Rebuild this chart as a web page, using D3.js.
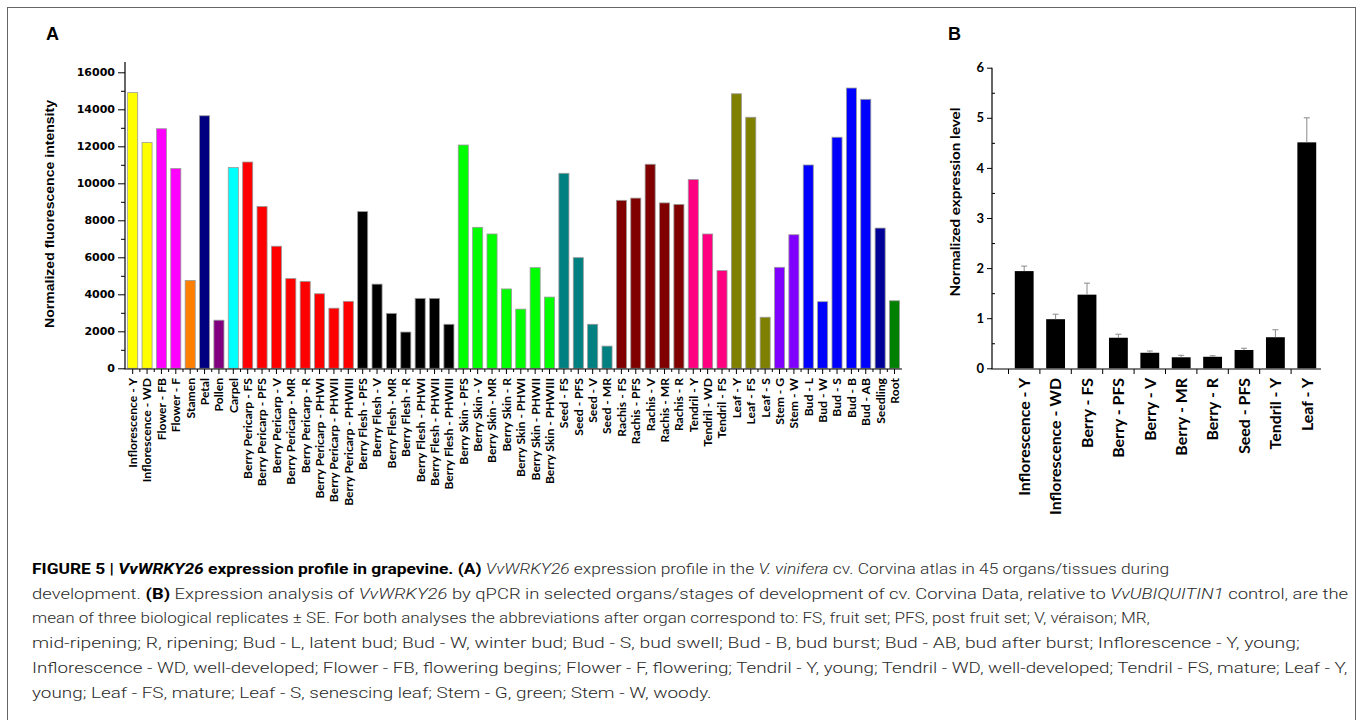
<!DOCTYPE html>
<html>
<head>
<meta charset="utf-8">
<script src="https://cdn.jsdelivr.net/npm/d3@7/dist/d3.min.js"></script>
<style>
  body { margin: 0; background: #fff; }
  svg { display: block; }
</style>
</head>
<body>
<svg id="fig" width="1360" height="720"></svg>
<script>
// ---- panel A: microarray atlas ----
var atlasLabels = ["Inflorescence - Y","Inflorescence - WD","Flower - FB","Flower - F","Stamen","Petal","Pollen","Carpel",
  "Berry Pericarp - FS","Berry Pericarp - PFS","Berry Pericarp - V","Berry Pericarp - MR","Berry Pericarp - R",
  "Berry Pericarp - PHWI","Berry Pericarp - PHWII","Berry Pericarp - PHWIII",
  "Berry Flesh - PFS","Berry Flesh - V","Berry Flesh - MR","Berry Flesh - R","Berry Flesh - PHWI","Berry Flesh - PHWII","Berry Flesh - PHWIII",
  "Berry Skin - PFS","Berry Skin - V","Berry Skin - MR","Berry Skin - R","Berry Skin - PHWI","Berry Skin - PHWII","Berry Skin - PHWIII",
  "Seed - FS","Seed - PFS","Seed - V","Seed - MR",
  "Rachis - FS","Rachis - PFS","Rachis - V","Rachis - MR","Rachis - R",
  "Tendril - Y","Tendril - WD","Tendril - FS","Leaf - Y","Leaf - FS","Leaf - S","Stem - G","Stem - W",
  "Bud - L","Bud - W","Bud - S","Bud - B","Bud - AB","Seedling","Root"];
var atlasValues = [14900,12200,12950,10800,4750,13650,2600,10850,
  11150,8750,6600,4850,4700,4030,3250,3620,
  8470,4550,2970,1960,3780,3780,2380,
  12070,7620,7260,4290,3200,5440,3850,
  10540,5980,2380,1200,
  9080,9200,11030,8940,8860,
  10200,7260,5280,14840,13570,2760,5460,7220,
  10990,3600,12490,15150,14540,7580,3650];
var atlasTicks = [0,2000,4000,6000,8000,10000,12000,14000,16000];
var organColors = {"Inflorescence":"#ffff00","Flower":"#ff00ff","Stamen":"#ff8000","Petal":"#000080",
  "Pollen":"#800080","Carpel":"#00ffff","Berry Pericarp":"#ff0000","Berry Flesh":"#000000",
  "Berry Skin":"#00ff00","Seed":"#008080","Rachis":"#800000","Tendril":"#ff0080","Leaf":"#808000",
  "Stem":"#8000ff","Bud":"#0000ff","Seedling":"#000099","Root":"#008000"};

// ---- panel B: qPCR ----
var qpcrLabels = ["Inflorescence - Y","Inflorescence - WD","Berry - FS","Berry - PFS","Berry - V",
  "Berry - MR","Berry - R","Seed - PFS","Tendril - Y","Leaf - Y"];
var qpcrMeans = [1.94,0.98,1.47,0.61,0.31,0.22,0.23,0.365,0.62,4.51];
var qpcrSE = [0.10,0.10,0.23,0.07,0.035,0.04,0.02,0.035,0.15,0.49];
var qpcrTicks = [0,1,2,3,4,5,6];

// ---- caption ----
var captionLines = [
  [["b","FIGURE 5 | "],["bi","VvWRKY26"],["b"," expression profile in grapevine. (A) "],["i","VvWRKY26"],["", " expression profile in the "],["i","V. vinifera"],[""," cv. Corvina atlas in 45 organs/tissues during"]],
  [["","development. "],["b","(B)"],[""," Expression analysis of "],["i","VvWRKY26"],[""," by qPCR in selected organs/stages of development of cv. Corvina Data, relative to "],["i","VvUBIQUITIN1"],[""," control, are the"]],
  [["","mean of three biological replicates \u00b1 SE. For both analyses the abbreviations after organ correspond to: FS, fruit set; PFS, post fruit set; V, v\u00e9raison; MR,"]],
  [["","mid-ripening; R, ripening; Bud - L, latent bud; Bud - W, winter bud; Bud - S, bud swell; Bud - B, bud burst; Bud - AB, bud after burst; Inflorescence - Y, young;"]],
  [["","Inflorescence - WD, well-developed; Flower - FB, flowering begins; Flower - F, flowering; Tendril - Y, young; Tendril - WD, well-developed; Tendril - FS, mature; Leaf - Y,"]],
  [["","young; Leaf - FS, mature; Leaf - S, senescing leaf; Stem - G, green; Stem - W, woody."]]
];
var captionLineEnds = [1170, 1349, 1150, 1300, 1349, 712];

var svg = d3.select("#fig");

// frame
svg.append("rect").attr("x", 7.5).attr("y", 7.5).attr("width", 1348).attr("height", 730)
  .attr("fill", "none").attr("stroke", "#666").attr("stroke-width", 1);

// panel letters
svg.append("text").attr("x", 46).attr("y", 40).text("A")
  .style("font", "bold 18px 'Liberation Sans', Arial, sans-serif");
svg.append("text").attr("x", 948).attr("y", 40).text("B")
  .style("font", "bold 18px 'Liberation Sans', Arial, sans-serif");

// fit a font size so a given label gets a given length
function fitSize(txt, family, weight, target) {
  var t = svg.append("text").text(txt).style("font-family", family).style("font-weight", weight).style("font-size", "20px");
  var w = t.node().getComputedTextLength();
  t.remove();
  return 20 * target / w;
}

// ===== Panel A =====
var xA = d3.scaleBand().domain(atlasLabels).range([125.5, 901.7]).paddingInner(0.3).paddingOuter(0.15);
var yA = d3.scaleLinear().domain([0, 16000]).range([368.3, 72.3]);
var gA = svg.append("g");

gA.selectAll("rect.bar").data(atlasLabels).enter().append("rect")
  .attr("class", "bar")
  .attr("x", function (d) { return xA(d); })
  .attr("width", xA.bandwidth())
  .attr("y", function (d, i) { return yA(atlasValues[i]); })
  .attr("height", function (d, i) { return yA(0) - yA(atlasValues[i]); })
  .attr("fill", function (d) { return organColors[d.split(" - ")[0]]; })
  .attr("stroke", "#9a9a9a").attr("stroke-width", 0.8);

// y axis
var axA = gA.append("g").attr("transform", "translate(125,0)")
  .call(d3.axisLeft(yA).tickValues(atlasTicks).tickSize(7).tickSizeOuter(0).tickPadding(3).tickFormat(d3.format("d")));
axA.select(".domain").remove();
axA.selectAll("text").style("font", "bold 11px 'DejaVu Sans', sans-serif").attr("fill", "#000");
gA.append("g").attr("transform", "translate(125,0)")
  .call(d3.axisLeft(yA).tickValues(d3.range(1000, 16000, 2000)).tickSize(4).tickFormat(""))
  .select(".domain").remove();
gA.append("line").attr("x1", 125).attr("x2", 125).attr("y1", 62).attr("y2", 369)
  .attr("stroke", "#000").attr("stroke-width", 1.2);

// x axis
gA.append("line").attr("x1", 124.5).attr("x2", 902).attr("y1", 369).attr("y2", 369)
  .attr("stroke", "#000").attr("stroke-width", 1.2);
var axXA = gA.append("g").attr("transform", "translate(0,369)")
  .call(d3.axisBottom(xA).tickSize(5).tickSizeOuter(0).tickPadding(4));
axXA.select(".domain").remove();
gA.selectAll("line.minorA").data(atlasLabels.slice(1)).enter().append("line")
  .attr("class", "minorA")
  .attr("x1", function (d) { return xA(d) - xA.step() * xA.paddingInner() / 2; })
  .attr("x2", function (d) { return xA(d) - xA.step() * xA.paddingInner() / 2; })
  .attr("y1", 369).attr("y2", 372).attr("stroke", "#000");
var labFontA = fitSize("Berry Pericarp - PHWIII", "Lato", "bold", 128);
axXA.selectAll("text")
  .attr("transform", "rotate(-90)")
  .attr("x", -9).attr("y", 0).attr("dy", "0.36em")
  .style("text-anchor", "end")
  .style("font-family", "Lato").style("font-weight", "bold").style("font-size", labFontA + "px")
  .attr("fill", "#000");

gA.append("text")
  .attr("transform", "translate(54,214) rotate(-90)")
  .attr("text-anchor", "middle")
  .attr("textLength", 228).attr("lengthAdjust", "spacingAndGlyphs")
  .style("font", "bold 13px 'Liberation Sans', Arial, sans-serif")
  .text("Normalized fluorescence intensity");

// ===== Panel B =====
var xB = d3.scaleBand().domain(qpcrLabels).range([1008.5, 1322.5]).paddingInner(0.4).paddingOuter(0.2);
var yB = d3.scaleLinear().domain([0, 6]).range([368.3, 67.7]);
var gB = svg.append("g");

gB.selectAll("rect.barB").data(qpcrLabels).enter().append("rect")
  .attr("class", "barB")
  .attr("x", function (d) { return xB(d); })
  .attr("width", xB.bandwidth())
  .attr("y", function (d, i) { return yB(qpcrMeans[i]); })
  .attr("height", function (d, i) { return yB(0) - yB(qpcrMeans[i]); })
  .attr("fill", "#000");

// error bars (upper only)
var eb = gB.selectAll("g.err").data(qpcrLabels).enter().append("g").attr("class", "err")
  .attr("stroke", "#8a8a8a").attr("stroke-width", 1);
eb.append("line")
  .attr("x1", function (d) { return xB(d) + xB.bandwidth() / 2; })
  .attr("x2", function (d) { return xB(d) + xB.bandwidth() / 2; })
  .attr("y1", function (d, i) { return yB(qpcrMeans[i]); })
  .attr("y2", function (d, i) { return yB(qpcrMeans[i] + qpcrSE[i]); });
eb.append("line")
  .attr("x1", function (d) { return xB(d) + xB.bandwidth() / 2 - 3; })
  .attr("x2", function (d) { return xB(d) + xB.bandwidth() / 2 + 3; })
  .attr("y1", function (d, i) { return yB(qpcrMeans[i] + qpcrSE[i]); })
  .attr("y2", function (d, i) { return yB(qpcrMeans[i] + qpcrSE[i]); });

var axB = gB.append("g").attr("transform", "translate(992,0)")
  .call(d3.axisLeft(yB).tickValues(qpcrTicks).tickSize(5).tickSizeOuter(0).tickPadding(3).tickFormat(d3.format("d")));
axB.select(".domain").remove();
axB.selectAll("text").style("font", "bold 13px Lato, sans-serif").attr("fill", "#000");
gB.append("g").attr("transform", "translate(992,0)")
  .call(d3.axisRight(yB).tickValues([0.5,1.5,2.5,3.5,4.5,5.5]).tickSize(3).tickFormat(""))
  .select(".domain").remove();
gB.append("line").attr("x1", 992).attr("x2", 992).attr("y1", 67.7).attr("y2", 369)
  .attr("stroke", "#000").attr("stroke-width", 1.2);
gB.append("line").attr("x1", 991.5).attr("x2", 1321).attr("y1", 369).attr("y2", 369)
  .attr("stroke", "#000").attr("stroke-width", 1.2);

// category boundary ticks and labels
var bounds = qpcrLabels.map(function (d) { return xB(d) - xB.step() * xB.paddingInner() / 2; });
gB.selectAll("line.tb").data(bounds).enter().append("line").attr("class", "tb")
  .attr("x1", function (d) { return d; }).attr("x2", function (d) { return d; })
  .attr("y1", 369).attr("y2", 374).attr("stroke", "#000");
var labFontB = fitSize("Inflorescence - WD", "Lato", "bold", 137);
gB.selectAll("text.xl").data(qpcrLabels).enter().append("text").attr("class", "xl")
  .attr("transform", function (d) { return "translate(" + (xB(d) + xB.bandwidth() / 2) + ",378) rotate(-90)"; })
  .attr("dy", "0.36em")
  .attr("text-anchor", "end")
  .style("font-family", "Lato").style("font-weight", "bold").style("font-size", labFontB + "px")
  .text(function (d) { return d; });

gB.append("text")
  .attr("transform", "translate(960,202) rotate(-90)")
  .attr("text-anchor", "middle")
  .attr("textLength", 189).attr("lengthAdjust", "spacingAndGlyphs")
  .style("font", "bold 14px Lato, sans-serif")
  .text("Normalized expression level");

// ===== caption =====
var capX = 32, capY = 574, capStep = 24.7;
var cap = svg.append("g").style("font-family", "Roboto, 'Liberation Sans', sans-serif").style("font-size", "15px")
  .style("font-weight", 300).attr("fill", "#2a2a2a");
captionLines.forEach(function (parts, li) {
  var t = cap.append("text");
  parts.forEach(function (p) {
    var s = t.append("tspan").text(p[1]);
    if (p[0].indexOf("b") >= 0) s.style("font-weight", "bold").attr("fill", "#000");
    if (p[0].indexOf("i") >= 0) s.style("font-style", "italic");
  });
  // squeeze each line horizontally so it ends where the reference line ends
  var sx = (captionLineEnds[li] - capX) / t.node().getComputedTextLength();
  t.attr("transform", "translate(" + capX + "," + (capY + li * capStep) + ") scale(" + sx + ",1)");
});
</script>
</body>
</html>
